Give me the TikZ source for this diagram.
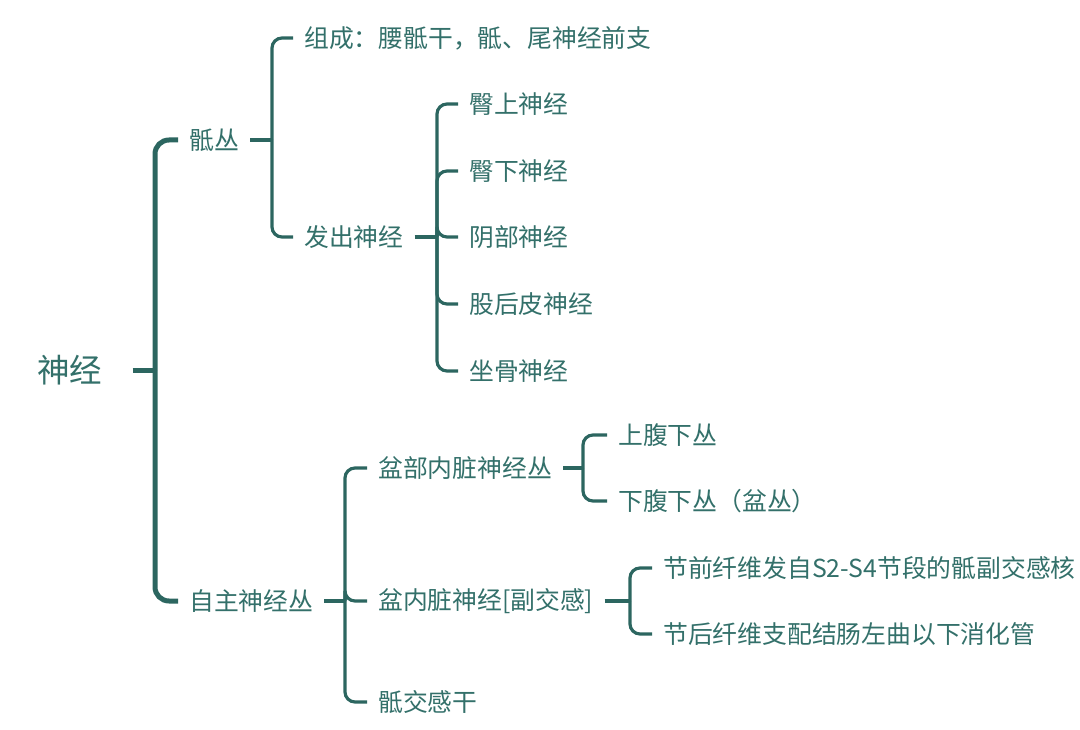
\documentclass[tikz,border=0pt]{standalone}
\usepackage{fontspec}
\setmainfont{Noto Sans CJK SC}
\usetikzlibrary{positioning}

\definecolor{mapline}{HTML}{2C6660}
\definecolor{maptext}{HTML}{33706A}

\begin{document}
\begin{tikzpicture}[
  x=1pt, y=-1pt,
  item/.style={anchor=west, inner xsep=11pt, inner ysep=2pt, text=maptext,
               font=\fontsize{24.8}{29}\selectfont},
  rootitem/.style={item, anchor=center, inner xsep=30pt,
                   font=\fontsize{32.5}{37}\selectfont},
  trunk/.style={draw=mapline, line width=5pt, rounded corners=14pt},
  branch/.style={draw=mapline, line width=3.2pt, rounded corners=10pt}
]
  \useasboundingbox (0,0) rectangle (1080,730);

  % root and first level
  \node[rootitem] (root) at (70,370) {神经};
  \coordinate (j0) at (155,370);
  \node[item] (sacral) at (178,140) {骶丛};
  \node[item] (auto)   at (178,601) {自主神经丛};
  \draw[trunk] (root.east) -- (j0);
  \draw[trunk] (j0) |- (sacral.west);
  \draw[trunk] (j0) |- (auto.west);

  % sacral plexus
  \coordinate (j1) at (272,140);
  \node[item] (comp) at (293,38)  {组成：腰骶干，骶、尾神经前支};
  \node[item] (out)  at (293,237) {发出神经};
  \draw[branch] (sacral.east) -- (j1);
  \draw[branch] (j1) |- (comp.west);
  \draw[branch] (j1) |- (out.west);

  % nerves given off
  \coordinate (j2) at (437,237);
  \draw[branch] (out.east) -- (j2);
  \foreach \n/\y/\t in {gsup/104/臀上神经, ginf/171/臀下神经, pud/237/阴部神经,
                        fem/304/股后皮神经, sci/371/坐骨神经}{
    \node[item] (\n) at (458,\y) {\t};
    \draw[branch] (j2) |- (\n.west);
  }

  % autonomic plexus
  \coordinate (j3) at (345,601);
  \node[item] (pelvic) at (367,468) {盆部内脏神经丛};
  \node[item] (splan)  at (367,601) {盆内脏神经[副交感]};
  \node[item] (trunkS) at (367,702) {骶交感干};
  \draw[branch] (auto.east) -- (j3);
  \draw[branch] (j3) |- (pelvic.west);
  \draw[branch] (j3) |- (splan.west);
  \draw[branch] (j3) |- (trunkS.west);

  % pelvic plexus
  \coordinate (j4) at (583,468);
  \node[item] (hsup) at (607,435) {上腹下丛};
  \node[item] (hinf) at (607,501) {下腹下丛（盆丛）};
  \draw[branch] (pelvic.east) -- (j4);
  \draw[branch] (j4) |- (hsup.west);
  \draw[branch] (j4) |- (hinf.west);

  % pelvic splanchnic nerves
  \coordinate (j5) at (630,601);
  \node[item] (pre)  at (652,568) {节前纤维发自S2-S4节段的骶副交感核};
  \node[item] (post) at (652,634) {节后纤维支配结肠左曲以下消化管};
  \draw[branch] (splan.east) -- (j5);
  \draw[branch] (j5) |- (pre.west);
  \draw[branch] (j5) |- (post.west);
\end{tikzpicture}
\end{document}
